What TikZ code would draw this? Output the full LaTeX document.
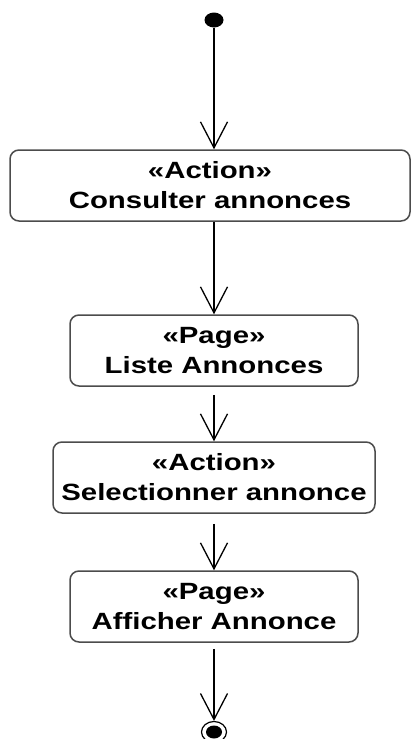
\documentclass[tikz,border=0pt]{standalone}
\usepackage{fontspec}
\newfontfamily\umlfont[FakeStretch=1.25]{Liberation Sans}
\usetikzlibrary{arrows.meta,shapes.geometric}
\begin{document}
\begin{tikzpicture}[x=1pt,y=-1pt,
  actbox/.style={draw=black!70, line width=1.5pt, rounded corners=9pt,
    minimum height=71pt, inner sep=0pt, align=center,
    font=\umlfont\bfseries\fontsize{23.5}{30}\selectfont},
  flow/.style={draw=black, line width=1.3pt,
    -{Straight Barb[length=26pt,width=27pt,line width=1.3pt]}},
  dot/.style={ellipse, fill=black, inner sep=0pt}
]
\useasboundingbox (0,0) rectangle (412,739);
\fill[white] (0,0) rectangle (412,739);

% initial and final nodes
\node[dot, minimum width=19pt, minimum height=15pt] (init) at (214,20) {};
\node[ellipse, draw=black, line width=1.2pt, inner sep=0pt,
      minimum width=25pt, minimum height=21pt] (fin) at (214,732) {};
\node[dot, minimum width=16pt, minimum height=13pt] (fincore) at (fin.center) {};

% actions and pages
\node[actbox, minimum width=400pt] (b1) at (210,185.5) {«Action»\\Consulter annonces};
\node[actbox, minimum width=288pt] (b2) at (214,350.5) {«Page»\\Liste Annonces};
\node[actbox, minimum width=322pt] (b3) at (214,477.5) {«Action»\\Selectionner annonce};
\node[actbox, minimum width=288pt] (b4) at (214,606.5) {«Page»\\Afficher Annonce};

% control flows
\draw[flow] (init) -- (init |- b1.north);
\draw[flow] (b1.south -| init) -- (b2.north);
\draw[flow, shorten <=8pt] (b2) -- (b3);
\draw[flow, shorten <=10pt] (b3) -- (b4);
\draw[flow, shorten <=6pt] (b4) -- (fin);
\end{tikzpicture}
\end{document}
